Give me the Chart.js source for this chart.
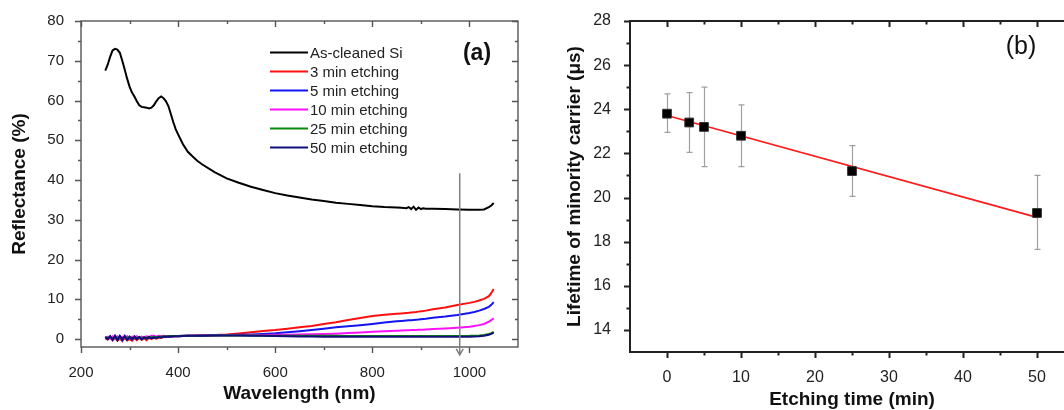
<!DOCTYPE html>
<html>
<head>
<meta charset="utf-8">
<script src="https://cdn.jsdelivr.net/npm/chart.js@4.4.1/dist/chart.umd.min.js"></script>
<style>
  html, body { margin: 0; padding: 0; background: #fff; overflow: hidden; }
  body { width: 1064px; height: 410px; position: relative; }
  #wa { position: absolute; left: 0; top: 0; width: 540px; height: 410px; }
  #wb { position: absolute; left: 540px; top: 0; width: 545px; height: 410px; }
</style>
</head>
<body>
<div id="wa"><canvas id="chartA"></canvas></div>
<div id="wb"><canvas id="chartB"></canvas></div>
<script>
// ---- (a) reflectance spectra ----
const wl = [250,255,260,265,270,275,280,285,290,295,300,305,310,315,320,325,330,335,340,345,350,355,360,365,370,
  375,380,385,390,395,400,
  410,420,430,440,450,
  475,500,525,550,575,600,625,650,675,700,725,750,775,800,825,850,
  860,870,875,880,885,890,895,900,905,910,
  925,950,975,1000,
  1010,1020,1030,1040,1045,1050];

const rClean = [67.5,69.0,71.0,72.6,73.0,72.8,72.0,70.0,67.8,65.5,63.5,62.0,61.0,59.8,58.8,58.4,58.3,58.2,58.0,58.2,58.8,59.8,60.6,61.0,60.6,
  59.8,58.6,56.6,54.6,52.8,51.5,
  49.0,47.1,45.9,44.8,43.9,
  42.0,40.4,39.3,38.3,37.5,36.7,36.1,35.6,35.1,34.7,34.3,34.0,33.7,33.4,33.2,33.1,
  33.0,32.9,33.2,32.7,33.3,32.5,33.1,32.7,32.9,32.8,
  32.8,32.7,32.6,32.5,
  32.5,32.5,32.6,33.2,33.6,34.2];
const r3 = [0.2,-0.1,0.4,-0.3,0.3,-0.4,0.1,-0.5,0.3,-0.3,0.0,-0.4,0.2,-0.3,0.3,-0.2,0.2,-0.3,0.3,0.0,0.3,0.1,0.4,0.3,0.5,
  0.5,0.6,0.6,0.65,0.7,0.7,
  0.75,0.8,0.85,0.9,0.95,
  1.0,1.15,1.4,1.7,2.0,2.25,2.6,2.95,3.3,3.8,4.2,4.8,5.3,5.8,6.1,6.35,
  6.45,6.55,6.6,6.7,6.75,6.8,6.9,7.0,7.05,7.15,
  7.5,7.95,8.55,9.1,
  9.35,9.7,10.1,10.8,11.6,12.6];
const r5 = [0.5,0.1,0.7,-0.1,0.8,-0.2,0.7,-0.3,0.8,-0.2,0.6,-0.1,0.7,0.1,0.5,0.0,0.5,0.2,0.5,0.3,0.5,0.4,0.6,0.5,0.6,
  0.6,0.6,0.65,0.7,0.7,0.7,
  0.75,0.8,0.85,0.9,0.9,
  0.95,1.0,1.05,1.15,1.3,1.45,1.7,1.95,2.25,2.6,2.95,3.2,3.5,3.8,4.15,4.45,
  4.55,4.65,4.7,4.75,4.8,4.85,4.9,5.0,5.05,5.1,
  5.35,5.65,6.05,6.55,
  6.8,7.15,7.55,8.1,8.6,9.3];
const r10 = [0.3,0.6,0.1,0.7,0.2,0.7,0.2,0.6,0.3,0.7,0.2,0.6,0.3,0.7,0.2,0.6,0.4,0.7,0.5,0.8,0.8,0.6,0.8,0.7,0.8,
  0.7,0.7,0.7,0.75,0.75,0.75,
  0.8,0.8,0.85,0.85,0.9,
  0.9,0.95,0.97,1.0,1.02,1.05,1.1,1.15,1.2,1.25,1.35,1.5,1.65,1.85,1.95,2.1,
  2.15,2.2,2.22,2.25,2.27,2.3,2.32,2.35,2.37,2.4,
  2.5,2.65,2.85,3.1,
  3.3,3.5,3.8,4.4,4.8,5.2];
const r25 = [0.4,0.2,0.6,0.1,0.6,0.2,0.5,0.1,0.6,0.3,0.5,0.1,0.5,0.2,0.5,0.2,0.4,0.3,0.5,0.4,0.6,0.5,0.6,0.6,0.7,
  0.7,0.7,0.7,0.75,0.75,0.75,
  0.8,0.8,0.85,0.85,0.85,
  0.9,0.9,0.9,0.88,0.86,0.85,0.84,0.83,0.82,0.8,0.8,0.78,0.77,0.76,0.75,0.75,
  0.75,0.75,0.75,0.75,0.75,0.75,0.75,0.75,0.75,0.75,
  0.75,0.76,0.78,0.8,
  0.85,0.9,1.0,1.3,1.5,1.8];
const r50 = [0.5,0.0,0.7,-0.2,0.8,-0.3,0.8,-0.1,0.7,-0.2,0.5,0.0,0.6,0.0,0.5,-0.1,0.4,0.1,0.5,0.2,0.4,0.3,0.5,0.4,0.6,
  0.6,0.65,0.65,0.7,0.7,0.7,
  0.75,0.8,0.8,0.85,0.85,
  0.88,0.9,0.88,0.85,0.8,0.75,0.7,0.67,0.63,0.6,0.58,0.57,0.56,0.55,0.55,0.55,
  0.55,0.55,0.55,0.55,0.55,0.55,0.55,0.55,0.55,0.55,
  0.55,0.56,0.58,0.6,
  0.65,0.7,0.85,1.1,1.3,1.6];

const seriesNames = ['As-cleaned Si', '3 min etching', '5 min etching', '10 min etching', '25 min etching', '50 min etching'];
const seriesColors = ['#000000', '#ff1010', '#1414f0', '#ff10ff', '#0a8a0a', '#10107a'];
const seriesVals = [rClean, r3, r5, r10, r25, r50];

const xMajorA = [200, 400, 600, 800, 1000];
const xMinorA = [300, 500, 700, 900];
const yMajorA = [0, 10, 20, 30, 40, 50, 60, 70, 80];
const yMinorA = [5, 15, 25, 35, 45, 55, 65, 75];

// arrow marking 980 nm
const arrowX = 980, arrowFrom = 41.7, arrowTo = -4;

// ---- (b) minority carrier lifetime ----
const etchTime = [0, 3, 5, 10, 25, 50];
const lifetime = [23.8, 23.4, 23.2, 22.8, 21.2, 19.3];
const errLow = [22.95, 22.05, 21.4, 21.4, 20.05, 17.65];
const errHigh = [24.7, 24.75, 25.0, 24.2, 22.35, 21.0];
const fitX = [0, 50];
const fitY = [23.72, 19.1];

const xMajorB = [0, 10, 20, 30, 40, 50];
const xMinorB = [5, 15, 25, 35, 45];
const yMajorB = [14, 16, 18, 20, 22, 24, 26, 28];
const yMinorB = [15, 17, 19, 21, 23, 25, 27];

const FONT = "'Liberation Sans', Arial, sans-serif";
Chart.defaults.font.family = FONT;
Chart.defaults.color = '#222';

// box + tick marks (outward on left/bottom, inward on top/right)
const framePlugin = {
    id: 'frame',
    afterDraw(chart, args, o) {
        const { ctx, chartArea: a, scales: { x, y } } = chart;
        ctx.save();
        ctx.strokeStyle = o.color;
        ctx.lineWidth = o.width;
        ctx.lineCap = 'square';
        ctx.strokeRect(a.left, a.top, a.right - a.left, a.bottom - a.top);
        ctx.lineCap = 'butt';
        ctx.beginPath();
        const seg = (x1, y1, x2, y2) => { ctx.moveTo(x1, y1); ctx.lineTo(x2, y2); };
        const doX = (vals, len) => vals.forEach(v => {
            const p = Math.round(x.getPixelForValue(v)) + 0.5;
            seg(p, a.bottom, p, a.bottom + len);
            seg(p, a.top, p, a.top + len);
        });
        const doY = (vals, len) => vals.forEach(v => {
            const p = Math.round(y.getPixelForValue(v)) + 0.5;
            seg(a.left - len, p, a.left, p);
            seg(a.right, p, a.right - len, p);
        });
        doX(o.xMajor, o.major); doX(o.xMinor, o.minor);
        doY(o.yMajor, o.major); doY(o.yMinor, o.minor);
        ctx.stroke();
        ctx.restore();
    }
};

const labelsPlugin = {
    id: 'extras',
    afterDraw(chart, args, o) {
        const { ctx, scales: { x, y } } = chart;
        ctx.save();
        if (o.arrow) {
            const px = x.getPixelForValue(arrowX);
            const y1 = y.getPixelForValue(arrowFrom), y2 = y.getPixelForValue(arrowTo);
            ctx.strokeStyle = '#808080';
            ctx.lineWidth = 1.5;
            ctx.beginPath();
            ctx.moveTo(px, y1); ctx.lineTo(px, y2);
            ctx.moveTo(px - 3.5, y2 - 6); ctx.lineTo(px, y2); ctx.lineTo(px + 3.5, y2 - 6);
            ctx.stroke();
        }
        if (o.legend) {
            ctx.font = '15px ' + FONT;
            ctx.textBaseline = 'middle';
            ctx.textAlign = 'left';
            seriesNames.forEach((n, i) => {
                const yy = 52.5 + i * 19;
                ctx.strokeStyle = seriesColors[i];
                ctx.lineWidth = 2;
                ctx.beginPath(); ctx.moveTo(270, yy); ctx.lineTo(308, yy); ctx.stroke();
                ctx.fillStyle = '#222';
                ctx.fillText(n, 310, yy + 1);
            });
        }
        ctx.font = o.tagFont;
        ctx.fillStyle = '#111';
        ctx.textAlign = 'center';
        ctx.textBaseline = 'middle';
        ctx.fillText(o.tag, o.tagX, o.tagY);
        ctx.restore();
    }
};

const errPlugin = {
    id: 'errbars',
    beforeDatasetsDraw(chart) {
        const { ctx, scales: { x, y } } = chart;
        ctx.save();
        ctx.strokeStyle = '#a0a0a0';
        ctx.lineWidth = 1.2;
        ctx.beginPath();
        etchTime.forEach((t, i) => {
            const px = Math.round(x.getPixelForValue(t)) + 0.5;
            const yt = y.getPixelForValue(errHigh[i]), yb = y.getPixelForValue(errLow[i]);
            ctx.moveTo(px, yt); ctx.lineTo(px, yb);
            ctx.moveTo(px - 3, yt); ctx.lineTo(px + 3, yt);
            ctx.moveTo(px - 3, yb); ctx.lineTo(px + 3, yb);
        });
        ctx.stroke();
        ctx.restore();
    }
};

const plainTick = v => String(v);

const CH_A = new Chart(document.getElementById('chartA'), {
    type: 'line',
    data: {
        datasets: seriesVals.map((vals, i) => ({
            label: seriesNames[i],
            data: wl.map((w, k) => ({ x: w, y: vals[k] })),
            borderColor: seriesColors[i],
            borderWidth: 2,
            pointRadius: 0,
            tension: 0,
            order: 6 - i
        }))
    },
    options: {
        responsive: true,
        maintainAspectRatio: false,
        animation: false,
        events: [],
        layout: { padding: { left: 0, right: 22, top: 21, bottom: 0 } },
        plugins: {
            legend: { display: false },
            tooltip: { enabled: false },
            frame: { color: '#555', width: 1.4, major: 6, minor: 3, xMajor: xMajorA, xMinor: xMinorA, yMajor: yMajorA, yMinor: yMinorA },
            extras: { arrow: true, legend: true, tag: '(a)', tagFont: 'bold 23px ' + FONT, tagX: 477, tagY: 54 }
        },
        scales: {
            x: {
                type: 'linear', min: 200, max: 1100,
                afterBuildTicks: s => { s.ticks = xMajorA.map(v => ({ value: v })); },
                afterFit: s => { s.height = 63; },
                grid: { display: false }, border: { display: false },
                ticks: { font: { size: 15 }, color: '#222', padding: 9, maxRotation: 0, callback: plainTick },
                title: { display: true, text: 'Wavelength (nm)', color: '#111', font: { size: 19, weight: 'bold', lineHeight: 1 }, padding: { bottom: 7 } }
            },
            y: {
                type: 'linear', min: -2, max: 80,
                afterBuildTicks: s => { s.ticks = yMajorA.map(v => ({ value: v })); },
                afterFit: s => { s.width = 81; },
                grid: { display: false }, border: { display: false },
                ticks: { font: { size: 15 }, color: '#222', padding: 9, callback: plainTick },
                title: { display: true, text: 'Reflectance (%)', color: '#111', font: { size: 19, weight: 'bold', lineHeight: 1 }, padding: { top: 10 } }
            }
        }
    },
    plugins: [framePlugin, labelsPlugin]
});

const CH_B = new Chart(document.getElementById('chartB'), {
    type: 'line',
    data: {
        datasets: [
            {
                label: 'Lifetime',
                data: etchTime.map((t, i) => ({ x: t, y: lifetime[i] })),
                showLine: false,
                pointStyle: 'rect',
                pointRadius: 6.2,
                backgroundColor: '#000',
                borderColor: '#333',
                borderWidth: 1,
                order: 0
            },
            {
                label: 'Fit',
                data: fitX.map((t, i) => ({ x: t, y: fitY[i] })),
                borderColor: '#ff1a1a',
                borderWidth: 1.6,
                pointRadius: 0,
                order: 1
            }
        ]
    },
    options: {
        responsive: true,
        maintainAspectRatio: false,
        animation: false,
        events: [],
        layout: { padding: { left: 0, right: 11, top: 21, bottom: 0 } },
        plugins: {
            legend: { display: false },
            tooltip: { enabled: false },
            frame: { color: '#222', width: 2, major: 6, minor: 3.5, xMajor: xMajorB, xMinor: xMinorB, yMajor: yMajorB, yMinor: yMinorB },
            extras: { tag: '(b)', tagFont: '25px ' + FONT, tagX: 481, tagY: 47 }
        },
        scales: {
            x: {
                type: 'linear', min: -5, max: 55,
                afterBuildTicks: s => { s.ticks = xMajorB.map(v => ({ value: v })); },
                afterFit: s => { s.height = 58; },
                grid: { display: false }, border: { display: false },
                ticks: { font: { size: 16 }, color: '#222', padding: 8, maxRotation: 0, callback: plainTick },
                title: { display: true, text: 'Etching time (min)', color: '#111', font: { size: 19, weight: 'bold', lineHeight: 1 }, padding: { bottom: 0.5 } }
            },
            y: {
                type: 'linear', min: 13, max: 28,
                afterBuildTicks: s => { s.ticks = yMajorB.map(v => ({ value: v })); },
                afterFit: s => { s.width = 90; },
                grid: { display: false }, border: { display: false },
                ticks: { font: { size: 16 }, color: '#222', padding: 11, callback: plainTick },
                title: { display: true, text: 'Lifetime of minority carrier (μs)', color: '#111', font: { size: 19, weight: 'bold', lineHeight: 1 }, padding: { top: 25 } }
            }
        }
    },
    plugins: [framePlugin, labelsPlugin, errPlugin]
});
</script>
</body>
</html>
